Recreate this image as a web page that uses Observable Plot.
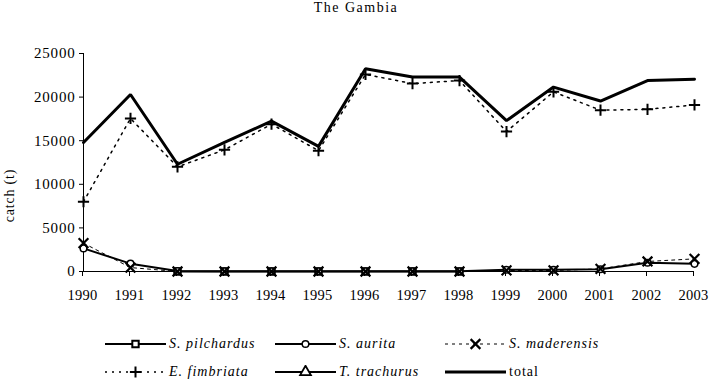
<!DOCTYPE html>
<html><head><meta charset="utf-8">
<script src="https://cdn.jsdelivr.net/npm/d3@7"></script>
<script src="https://cdn.jsdelivr.net/npm/@observablehq/plot@0.6"></script>
<style>
html,body{margin:0;padding:0;background:#fff;}
body{width:709px;height:381px;overflow:hidden;font-family:"Liberation Serif","Times New Roman",serif;color:#000;}
#title{height:20px;line-height:15px;font-size:14px;letter-spacing:1.5px;text-align:center;padding-left:3px;}
#chart svg, #chart svg text{font-family:"Liberation Serif","Times New Roman",serif !important;}
#chart svg text{letter-spacing:0.8px;}
#chart svg g[aria-label="x-axis tick label"] text{letter-spacing:0.3px;}
#legend{padding-top:10px;padding-left:105px;}
.row{display:flex;height:28px;align-items:center;}
.item{display:flex;align-items:center;width:170px;font-size:14px;letter-spacing:1px;}
.item span{margin-left:3px;}
.it{font-style:italic;}
</style></head><body>
<div id="title">The Gambia</div>
<div id="chart"></div>
<div id="legend"></div>
<script>
const years = [1990,1991,1992,1993,1994,1995,1996,1997,1998,1999,2000,2001,2002,2003];
const sPilchardus = [null,null,0,0,0,0,0,0,0,null,null,null,null,null];
const sAurita     = [2650,900,50,30,30,30,30,30,30,200,200,250,1000,880];
const sMaderensis = [3250,450,0,0,0,0,0,0,0,120,120,300,1150,1450];
const eFimbriata  = [8000,17550,12000,13950,16900,13850,22600,21550,21900,16050,20600,18500,18600,19100];
const tTrachurus  = [null,null,null,null,null,null,null,null,null,null,null,null,null,null];
const total       = [14800,20300,12300,14800,17250,14350,23250,22300,22300,17300,21150,19550,21900,22050];
const seriesNames = ["S. pilchardus","S. aurita","S. maderensis","E. fimbriata","T. trachurus","total"];
const seriesValues = [sPilchardus,sAurita,sMaderensis,eFimbriata,tTrachurus,total];
const yTicks = [0,5000,10000,15000,20000,25000];

const styles = {
  "S. pilchardus": {w:2, dash:null, symbol:"square", r:3.6, sw:2, fill:"white"},
  "S. aurita":     {w:2, dash:null, symbol:"circle", r:3.3, sw:1.5, fill:"white"},
  "S. maderensis": {w:1, dash:"3,4", symbol:"times", r:4.5, sw:2.2, fill:"none"},
  "E. fimbriata":  {w:1.5, dash:"2,5", symbol:"plus", r:3.7, sw:2, fill:"none"},
  "T. trachurus":  {w:2, dash:null, symbol:"triangle", r:4, sw:1.8, fill:"white"},
  "total":         {w:3, dash:null, symbol:null}
};

const rows = seriesNames.flatMap((name,i) => years.map((year,j) => ({series:name, year, value:seriesValues[i][j]})));

const marks = [
  Plot.ruleY([0], {stroke:"black", strokeWidth:1}),
  Plot.ruleX([years[0]], {y1:0, y2:d3.max(yTicks), stroke:"black", strokeWidth:1}),
  Plot.axisX({ticks: years, tickFormat: d => String(d), tickSize:5, tickPadding:13, label:null, fontSize:14.5, dx:-1}),
  Plot.axisY({ticks: yTicks, tickFormat: d => String(d), tickSize:4, tickPadding:4, label:null}),
  Plot.text(["catch (t)"], {frameAnchor:"left", textAnchor:"middle", rotate:-90, dx:-74, dy:33, fontSize:14})
];
for (const name of seriesNames) {
  const st = styles[name];
  const data = rows.filter(d => d.series === name && d.value != null);
  if (!data.length) continue;
  const lineData = rows.filter(d => d.series === name);
  marks.push(Plot.line(lineData, {x:"year", y:"value", stroke:"black", strokeWidth:st.w, strokeDasharray:st.dash, strokeLinejoin:"miter"}));
  if (st.symbol) {
    marks.push(Plot.dot(data, {x:"year", y:"value", symbol:() => st.symbol, r:st.r, stroke:"black", strokeWidth:st.sw, fill:st.fill}));
  }
}

const chart = Plot.plot({
  width:709, height:300,
  marginTop:33, marginBottom:49, marginLeft:83, marginRight:15,
  x:{domain:[years[0], years[years.length-1]]},
  y:{domain:[0, d3.max(yTicks)]},
  symbol:{type:"identity"},
  style:{fontFamily:"Liberation Serif, serif", fontSize:"15px", color:"black", background:"white", overflow:"visible"},
  marks
});
document.getElementById("chart").appendChild(chart);

// legend
const legendOrder = [["S. pilchardus","S. aurita","S. maderensis"],["E. fimbriata","T. trachurus","total"]];
const symbolMap = {square:d3.symbolSquare, circle:d3.symbolCircle, times:d3.symbolTimes, plus:d3.symbolPlus, triangle:d3.symbolTriangle};
const leg = d3.select("#legend");
for (const r of legendOrder) {
  const row = leg.append("div").attr("class","row");
  for (const name of r) {
    const st = styles[name];
    const item = row.append("div").attr("class","item");
    const svg = item.append("svg").attr("width",61).attr("height",14);
    svg.append("line").attr("x1",0).attr("x2",61).attr("y1",7).attr("y2",7)
      .attr("stroke","black").attr("stroke-width",st.w).attr("stroke-dasharray",st.dash);
    if (st.symbol) {
      svg.append("path").attr("transform","translate(30.5,7)")
        .attr("d", d3.symbol(symbolMap[st.symbol], Math.PI*st.r*st.r)())
        .attr("stroke","black").attr("stroke-width",st.sw).attr("fill",st.fill);
    }
    item.append("span").attr("class", name === "total" ? "" : "it").text(name);
  }
}
</script>
</body></html>
